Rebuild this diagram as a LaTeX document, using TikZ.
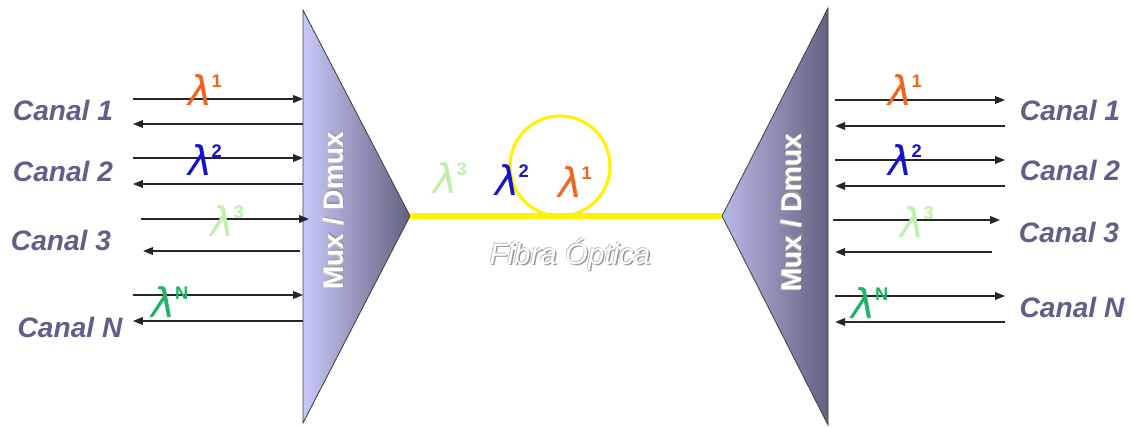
\documentclass[tikz,border=0pt]{standalone}
\usepackage{fontspec}
\setmainfont{Liberation Sans}
\newfontfamily\lamfont{DejaVu Sans}
\usetikzlibrary{arrows.meta, positioning}
\definecolor{canalGray} {RGB}{95,  95, 135}
\definecolor{muxLight}  {RGB}{200, 200, 250}
\definecolor{muxDark}   {RGB}{ 98,  98, 128}
\definecolor{fibreYel}  {RGB}{255, 242,   0}
\definecolor{lamOrange} {RGB}{240, 100,  30}
\definecolor{lamBlue}   {RGB}{ 20,  20, 200}
\definecolor{lamLime}   {RGB}{190, 240, 170}
\definecolor{lamGreen}  {RGB}{ 30, 180, 100}
\definecolor{shadowGray}{RGB}{150, 150, 150}
\newcommand{\embossed}[1]{%
  \makebox[0pt][l]{\hspace{1pt}\raisebox{-1pt}{\textcolor{shadowGray}{#1}}}%
  \makebox[0pt][l]{\hspace{-0.5pt}\raisebox{0.5pt}{\textcolor{shadowGray!60}{#1}}}%
  \textcolor{white}{#1}}
\newcommand{\lam}[1]{{\lamfont\itshape λ}\kern-0.5pt%
  \raisebox{0.45em}{\fontsize{13}{13}\selectfont\bfseries #1}}
\tikzset{
  canal/.style  = {font=\fontsize{20}{22}\selectfont\bfseries\itshape,
                   text=canalGray, inner sep=0pt},
  lam/.style    = {font=\fontsize{29}{31}\selectfont, text=#1, inner sep=0pt},
  sig/.style    = {-{Triangle[length=7pt,width=5.5pt]}, line width=0.9pt,
                   draw=black!85},
  muxlbl/.style = {rotate=90, font=\fontsize{20}{22}\selectfont\bfseries,
                   inner sep=0pt},
  muxedge/.style = {draw=black!75, line width=0.6pt},
  fibre/.style  = {draw=fibreYel, line width=3.6pt},
  ring/.style   = {draw=fibreYel, line width=2.2pt},
}

\begin{document}
\begin{tikzpicture}[x=0.025cm, y=-0.025cm]
\useasboundingbox (0,0) rectangle (1133,428);

% ---- Mux / Dmux blocks ------------------------------------------------------
\coordinate (muxLt) at (303,10);
\coordinate (muxLb) at (303,423);
\coordinate (muxLa) at (410,216);
\coordinate (muxRt) at (828,8);
\coordinate (muxRb) at (828,425);
\coordinate (muxRa) at (722,216);
\shade[left color=muxLight, right color=muxDark] (muxLt) -- (muxLa) -- (muxLb) -- cycle;
\shade[left color=muxLight!85!muxDark, right color=muxDark] (muxRa) -- (muxRt) -- (muxRb) -- cycle;
\draw[muxedge] (muxLt) -- (muxLa) -- (muxLb) -- cycle;
\draw[muxedge] (muxRa) -- (muxRt) -- (muxRb) -- cycle;
\node[muxlbl] (muxLtxt) at (334,211) {\embossed{Mux / Dmux}};
\node[muxlbl] (muxRtxt) at (792,213) {\embossed{Mux / Dmux}};

% ---- Fibre ------------------------------------------------------------------
\coordinate (loopc) at (560,166);
\draw[fibre] (muxLa) -- (muxRa);
\draw[ring] (loopc) circle[radius=1.25cm];
\node[font=\fontsize{21}{23}\selectfont\itshape, inner sep=0pt] (fibtxt)
     at (570,255) {\embossed{Fibra Óptica}};
\node[lam=lamLime]   (fl3) at (450,178) {\lam{3}};
\node[lam=lamBlue]   (fl2) at (512,180) {\lam{2}};
\node[lam=lamOrange] (fl1) at (575,182) {\lam{1}};

% ---- Left channels ----------------------------------------------------------
\node[canal] (cL1) at (63,110) {Canal 1};
\node[canal] (cL2) at (63,171) {Canal 2};
\node[canal] (cL3) at (61,240) {Canal 3};
\node[canal] (cLN) at (70,327) {Canal N};

\coordinate (l1a) at (133,99);
\coordinate (l1b) at (133,124);
\coordinate (l2a) at (133,158);
\coordinate (l2b) at (133,184);
\coordinate (l3a) at (141,219);
\coordinate (l3b) at (143,251);
\coordinate (lNa) at (133,295);
\coordinate (lNb) at (133,321);
\draw[sig] (l1a) -- (l1a -| muxLt);
\draw[sig] (l1b -| muxLt) -- (l1b);
\draw[sig] (l2a) -- (l2a -| muxLt);
\draw[sig] (l2b -| muxLt) -- (l2b);
\draw[sig] (l3a) -- ([xshift=0.15cm]l3a -| muxLt);
\draw[sig] ([xshift=-0.08cm]l3b -| muxLt) -- (l3b);
\draw[sig] (lNa) -- (lNa -| muxLt);
\draw[sig] (lNb -| muxLt) -- (lNb);

\node[lam=lamOrange] (ll1) at (205,90)  {\lam{1}};
\node[lam=lamBlue]   (ll2) at (205,160) {\lam{2}};
\node[lam=lamLime]   (ll3) at (227,221) {\lam{3}};
\node[lam=lamGreen]  (llN) at (170,302) {\lam{N}};

% ---- Right channels ---------------------------------------------------------
\node[canal] (cR1) at (1070,110) {Canal 1};
\node[canal] (cR2) at (1070,170) {Canal 2};
\node[canal] (cR3) at (1069,232) {Canal 3};
\node[canal] (cRN) at (1072,307) {Canal N};

\coordinate (r1a) at (1005,100);
\coordinate (r1b) at (1005,126);
\coordinate (r2a) at (1005,160);
\coordinate (r2b) at (1005,186);
\coordinate (r3a) at (1000,220);
\coordinate (r3b) at (992,252);
\coordinate (rNa) at (1005,296);
\coordinate (rNb) at (1005,322);
\draw[sig] ([xshift=0.18cm]r1a -| muxRt) -- (r1a);
\draw[sig] (r1b) -- ([xshift=0.18cm]r1b -| muxRt);
\draw[sig] ([xshift=0.18cm]r2a -| muxRt) -- (r2a);
\draw[sig] (r2b) -- ([xshift=0.18cm]r2b -| muxRt);
\draw[sig] ([xshift=0.13cm]r3a -| muxRt) -- (r3a);
\draw[sig] (r3b) -- ([xshift=0.18cm]r3b -| muxRt);
\draw[sig] ([xshift=0.18cm]rNa -| muxRt) -- (rNa);
\draw[sig] (rNb) -- ([xshift=0.18cm]rNb -| muxRt);

\node[lam=lamOrange] (rl1) at (905,90)  {\lam{1}};
\node[lam=lamBlue]   (rl2) at (905,160) {\lam{2}};
\node[lam=lamLime]   (rl3) at (917,222) {\lam{3}};
\node[lam=lamGreen]  (rlN) at (870,303) {\lam{N}};

\end{tikzpicture}
\end{document}
